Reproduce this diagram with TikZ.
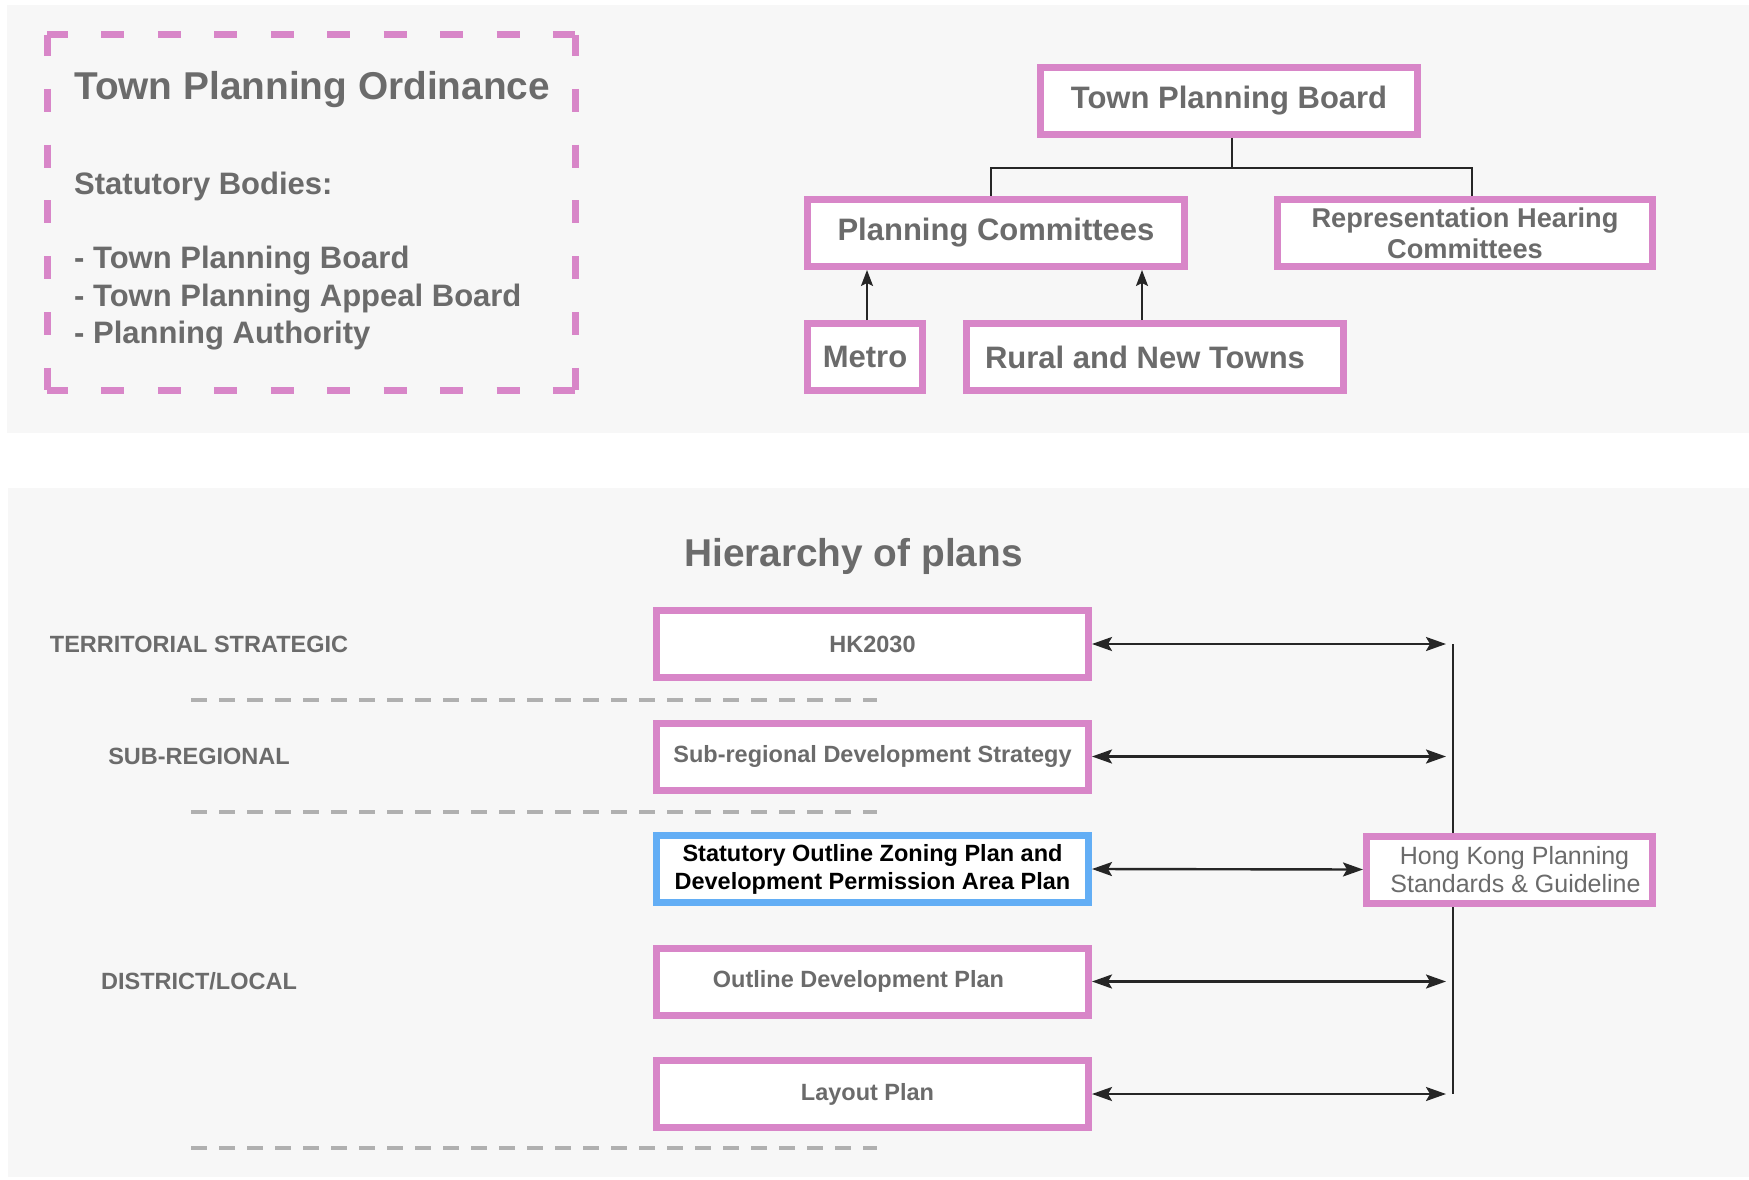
\documentclass[tikz,border=0pt]{standalone}
\usepackage{fontspec}
\setmainfont{Liberation Sans}
\usetikzlibrary{arrows.meta}

\definecolor{panelbg}{HTML}{F7F7F7}
\definecolor{pinkline}{HTML}{D886C8}
\definecolor{blueline}{HTML}{63AEF5}
\definecolor{greytext}{HTML}{6B6B6B}
\definecolor{rulegrey}{HTML}{B0B0B0}
\definecolor{wire}{HTML}{262626}

\newcommand\fsTitle{\fontsize{38.8pt}{46pt}\selectfont}
\newcommand\fsBody{\fontsize{31pt}{38pt}\selectfont}
\newcommand\fsRhc{\fontsize{27.2pt}{31pt}\selectfont}
\newcommand\fsPlan{\fontsize{23.5pt}{28pt}\selectfont}
\newcommand\fsStd{\fontsize{25pt}{28pt}\selectfont}

\begin{document}
\begin{tikzpicture}[x=1pt,y=-1pt,
  pinkbox/.style={draw=pinkline,line width=7pt,fill=white,inner sep=0pt,
    text=greytext,minimum height=67pt},
  bluebox/.style={pinkbox,draw=blueline,text=black},
  chart/.style={font=\bfseries\fsBody,minimum width=377pt},
  plan/.style={font=\bfseries\fsPlan,minimum width=432pt},
  plain/.style={inner sep=0pt,text=greytext},
  tag/.style={plain,font=\bfseries\fsPlan},
  ordside/.style={draw=pinkline,line width=7pt,line cap=square},
  connector/.style={draw=wire,line width=1.5pt},
  uparrow/.style={draw=wire,line width=2pt,
    -{Stealth[length=16pt,width=12pt,inset=3pt]}},
  twoway/.style={draw=wire,line width=2.4pt,
    {Stealth[length=20pt,width=14pt,inset=4pt]}-{Stealth[length=20pt,width=14pt,inset=4pt]}},
  bus/.style={draw=wire,line width=2.4pt},
  levelrule/.style={draw=rulegrey,line width=3.5pt,dash pattern=on 15.5pt off 12.5pt},
]
\useasboundingbox (0,0) rectangle (1749,1180);
\fill[white] (0,0) rectangle (1749,1180);

% two grey panels
\fill[panelbg] (7,5) rectangle (1749,433);
\fill[panelbg] (8,488) rectangle (1749,1177);

% ---------- ordinance box (dashed frame, one side at a time) ----------
\draw[ordside,dash pattern=on 23pt off 33.44pt,dash phase=2pt] (47,35) -- (575,35);
\draw[ordside,dash pattern=on 23pt off 33.44pt,dash phase=2pt] (47,390) -- (575,390);
\draw[ordside,dash pattern=on 23pt off 32.8pt,dash phase=2pt] (47,35) -- (47,390);
\draw[ordside,dash pattern=on 23pt off 32.8pt,dash phase=2pt] (575,35) -- (575,390);

\node[plain,anchor=base west,font=\bfseries\fsTitle] (ordinance) at (74,100) {Town Planning Ordinance};
\node[plain,anchor=base west,font=\bfseries\fsBody] (bodies) at (74,194) {Statutory Bodies:};
\node[plain,anchor=base west,font=\bfseries\fsBody] (bodyA) at (74,268) {- Town Planning Board};
\node[plain,anchor=base west,font=\bfseries\fsBody] (bodyB) at (74,306) {- Town Planning Appeal Board};
\node[plain,anchor=base west,font=\bfseries\fsBody] (bodyC) at (74,343) {- Planning Authority};

% ---------- board and committees ----------
\node[pinkbox,chart] (tpb) at (1229,101) {Town Planning Board};
\node[pinkbox,chart] (pc) at (996,233) {Planning Committees};
\node[pinkbox,font=\bfseries\fsRhc,minimum width=375pt,align=center] (rhc) at (1465,233)
  {Representation Hearing\\Committees};
\node[pinkbox,chart,minimum width=115pt] (metro) at (865,357) {Metro};
\node[pinkbox,chart] (rural) at (1155,357) {Rural and New Towns\hspace*{20pt}};

\draw[connector] ([xshift=3pt]tpb.south) -- ++(0,30) coordinate (fork);
\draw[connector] (fork) -| ([xshift=-5pt]pc.north);
\draw[connector] (fork) -| ([xshift=7pt]rhc.north);

\path ([xshift=2pt]metro.north) coordinate (metroUp);
\path ([xshift=-13pt]rural.north) coordinate (ruralUp);
\draw[uparrow] (metroUp) -- (metroUp |- pc.south);
\draw[uparrow] (ruralUp) -- (ruralUp |- pc.south);

% ---------- hierarchy of plans ----------
\node[plain,anchor=base,font=\bfseries\fsTitle] (hierarchy) at (853.5,566) {Hierarchy of plans};

\node[tag] (lvlTerr) at (199,644) {TERRITORIAL STRATEGIC};
\node[tag] (lvlSub) at (199,756.5) {SUB-REGIONAL};
\node[tag] (lvlDist) at (199,981.5) {DISTRICT/LOCAL};

\draw[levelrule] (191,700) -- (877,700);
\draw[levelrule] (191,812) -- (877,812);
\draw[levelrule] (191,1148) -- (877,1148);

\coordinate (busTop) at (1453,644);
\coordinate (busBot) at (1453,1094);
\coordinate (tipCol) at (1446,644);
\draw[bus] (busTop) -- (busBot);

\node[pinkbox,plan] (hk2030) at (872.5,644) {HK2030};
\node[pinkbox,plan] (subreg) at (872.5,756.5) {Sub-regional Development Strategy};
\node[bluebox,plan,align=center] (ozp) at (872.5,869)
  {Statutory Outline Zoning Plan and\\Development Permission Area Plan};
\node[pinkbox,plan] (odp) at (872.5,981.5) {Outline Development Plan\hspace*{28pt}};
\node[pinkbox,plan] (layout) at (872.5,1094) {Layout Plan\hspace*{10pt}};
\node[pinkbox,font=\fsStd,minimum width=286pt,align=center] (hkpsg) at (1509.5,869.5)
  {\hspace*{10pt}Hong Kong Planning\\\hspace*{12pt}Standards \& Guideline};

\draw[twoway] (hk2030.east) -- (hk2030.east -| tipCol);
\draw[twoway] (subreg.east) -- (subreg.east -| tipCol);
\draw[twoway] (ozp.east) -- (hkpsg.west);
\draw[twoway] (odp.east) -- (odp.east -| tipCol);
\draw[twoway] (layout.east) -- (layout.east -| tipCol);
\end{tikzpicture}
\end{document}
